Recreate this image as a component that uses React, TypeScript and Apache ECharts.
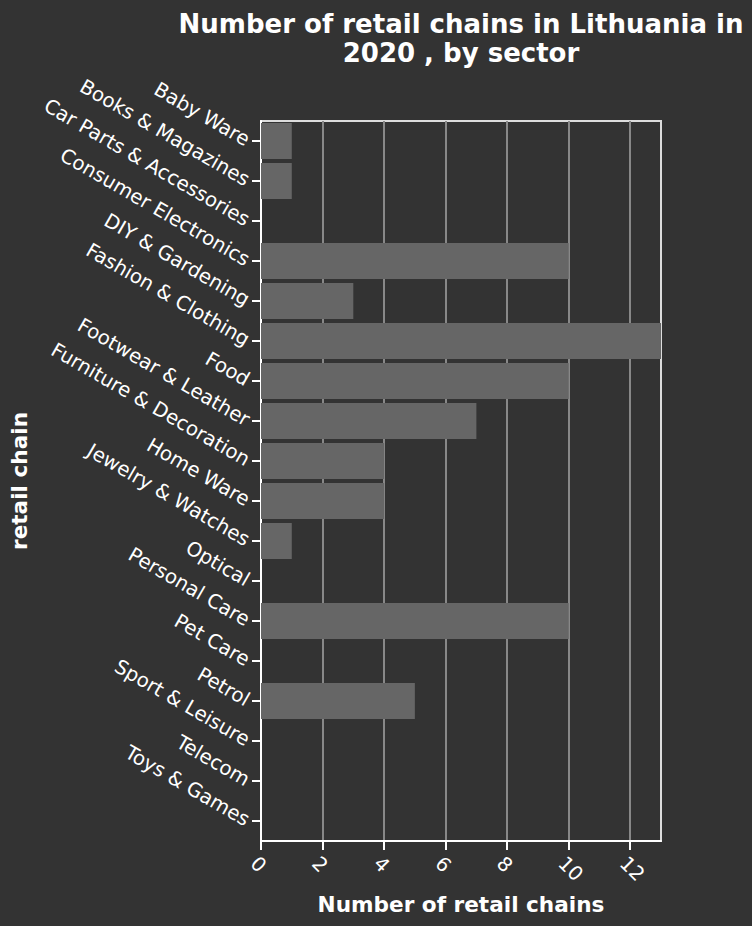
import React, { useEffect, useRef } from "react";
import * as echarts from "echarts";

const categories = [
  "Baby Ware",
  "Books & Magazines",
  "Car Parts & Accessories",
  "Consumer Electronics",
  "DIY & Gardening",
  "Fashion & Clothing",
  "Food",
  "Footwear & Leather",
  "Furniture & Decoration",
  "Home Ware",
  "Jewelry & Watches",
  "Optical",
  "Personal Care",
  "Pet Care",
  "Petrol",
  "Sport & Leisure",
  "Telecom",
  "Toys & Games",
];

const chainCounts = [1, 1, 0, 10, 3, 13, 10, 7, 4, 4, 1, 0, 10, 0, 5, 0, 0, 0];

const xTicks = [0, 2, 4, 6, 8, 10, 12];
const xMax = 13;

const titleText = "Number of retail chains in Lithuania in\n2020 , by sector";
const xTitle = "Number of retail chains";
const yTitle = "retail chain";

const FONT = "DejaVu Sans";

export default function App() {
  const ref = useRef<HTMLDivElement>(null);

  useEffect(() => {
    document.body.style.margin = "0";
    document.body.style.background = "#333333";
    const chart = echarts.init(ref.current!, null, { renderer: "svg" });
    chart.setOption({
      animation: false,
      backgroundColor: "#333333",
      title: {
        text: titleText,
        left: 456,
        top: 4,
        textAlign: "center",
        textStyle: {
          color: "#ffffff",
          fontFamily: FONT,
          fontWeight: "bold",
          fontSize: 26,
          lineHeight: 29,
        },
      },
      grid: {
        left: 261,
        top: 121,
        width: 400,
        height: 720,
        containLabel: false,
        show: true,
        borderColor: "#dddddd",
        borderWidth: 2,
        backgroundColor: "transparent",
      },
      xAxis: {
        type: "value",
        min: 0,
        max: xMax,
        interval: 2,
        name: xTitle,
        nameLocation: "middle",
        nameGap: 52,
        nameTextStyle: {
          color: "#ffffff",
          fontFamily: FONT,
          fontWeight: "bold",
          fontSize: 21.6,
        },
        axisLine: { show: true, lineStyle: { color: "#ffffff", width: 2 } },
        axisTick: {
          show: true,
          length: 9,
          lineStyle: { color: "#ffffff", width: 2 },
          customValues: xTicks,
        },
        axisLabel: {
          color: "#ffffff",
          fontFamily: FONT,
          fontSize: 19.8,
          rotate: -45,
          margin: 12,
          verticalAlign: "top",
          customValues: xTicks,
        },
        splitLine: {
          show: true,
          lineStyle: { color: "#888888", width: 2 },
        },
      },
      yAxis: {
        type: "category",
        data: categories,
        inverse: true,
        name: yTitle,
        nameLocation: "middle",
        nameRotate: 90,
        nameGap: 228,
        nameTextStyle: {
          color: "#ffffff",
          fontFamily: FONT,
          fontWeight: "bold",
          fontSize: 21.6,
        },
        axisLine: { show: true, lineStyle: { color: "#ffffff", width: 2 } },
        axisTick: {
          show: true,
          alignWithLabel: true,
          length: 9,
          lineStyle: { color: "#ffffff", width: 2 },
        },
        axisLabel: {
          color: "#ffffff",
          fontFamily: FONT,
          fontSize: 19.8,
          rotate: -30,
          margin: 13,
          interval: 0,
        },
        splitLine: { show: false },
      },
      series: [
        {
          type: "bar",
          data: chainCounts,
          barCategoryGap: "10%",
          itemStyle: { color: "#666666" },
          z: 5,
        },
      ],
    });
    return () => chart.dispose();
  }, []);

  return <div ref={ref} style={{ width: 752, height: 926 }} />;
}
